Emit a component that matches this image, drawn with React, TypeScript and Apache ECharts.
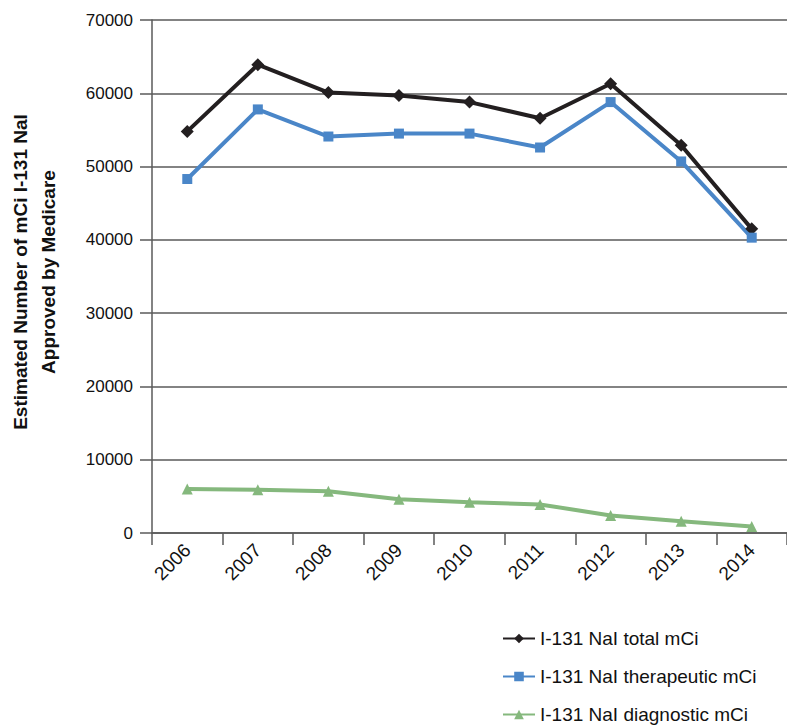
import React, { useEffect, useRef } from "react";
import * as echarts from "echarts";

const years = ["2006", "2007", "2008", "2009", "2010", "2011", "2012", "2013", "2014"];
const totalMCi = [54800, 63900, 60100, 59700, 58800, 56600, 61300, 52900, 41500];
const therapeuticMCi = [48300, 57800, 54100, 54500, 54500, 52600, 58800, 50700, 40300];
const diagnosticMCi = [6000, 5900, 5700, 4600, 4200, 3900, 2400, 1600, 900];
const seriesNames = ["I-131 NaI total mCi", "I-131 NaI therapeutic mCi", "I-131 NaI diagnostic mCi"];
const yTitle = "Estimated Number of mCi I-131 NaI\nApproved by Medicare";

const FONT = "'Liberation Sans', Arial, Helvetica, sans-serif";

export default function App() {
  const ref = useRef<HTMLDivElement>(null);
  useEffect(() => {
    document.body.style.margin = "0";
    const chart = echarts.init(ref.current!, null, { renderer: "svg" });
    chart.setOption({
      animation: false,
      backgroundColor: "#ffffff",
      textStyle: { fontFamily: FONT },
      grid: { left: 152, right: -6, top: 20, bottom: 193, containLabel: false },
      xAxis: {
        type: "category",
        data: years,
        boundaryGap: true,
        axisLine: { lineStyle: { color: "#5a5a5a", width: 1.5 } },
        axisTick: { show: true, length: 12, inside: false, lineStyle: { color: "#5a5a5a", width: 1.5 } },
        axisLabel: { rotate: 45, margin: 14, fontSize: 19, color: "#111", fontFamily: FONT, interval: 0 },
      },
      yAxis: {
        type: "value",
        min: 0,
        max: 70000,
        interval: 10000,
        axisLine: { show: true, lineStyle: { color: "#5a5a5a", width: 1.5 } },
        axisTick: { show: true, length: 12, lineStyle: { color: "#5a5a5a", width: 1.5 } },
        axisLabel: { fontSize: 17, color: "#111", margin: 19, fontFamily: FONT, formatter: (v: number) => String(v) },
        splitLine: { show: true, lineStyle: { color: "#5a5a5a", width: 1.5 } },
      },
      legend: {
        orient: "vertical",
        left: 497,
        top: 624,
        height: 200,
        itemGap: 19,
        itemWidth: 32,
        itemHeight: 12,
        textStyle: { fontSize: 19, color: "#111", fontFamily: FONT },
        data: seriesNames,
      },
      graphic: [
        {
          type: "text",
          x: 34,
          y: 272,
          rotation: Math.PI / 2,
          style: {
            text: yTitle,
            font: `bold 19px ${FONT}`,
            fill: "#111",
            align: "center",
            verticalAlign: "middle",
            lineHeight: 28,
          },
        },
      ],
      series: [
        {
          name: seriesNames[0],
          type: "line",
          data: totalMCi,
          symbol: "diamond",
          symbolSize: 13,
          lineStyle: { color: "#231f20", width: 4 },
          itemStyle: { color: "#231f20" },
        },
        {
          name: seriesNames[1],
          type: "line",
          data: therapeuticMCi,
          symbol: "rect",
          symbolSize: 10,
          lineStyle: { color: "#4a86c8", width: 4 },
          itemStyle: { color: "#4a86c8" },
        },
        {
          name: seriesNames[2],
          type: "line",
          data: diagnosticMCi,
          symbol: "triangle",
          symbolSize: 11,
          lineStyle: { color: "#85b87d", width: 4 },
          itemStyle: { color: "#85b87d" },
        },
      ],
    });
    return () => chart.dispose();
  }, []);
  return <div ref={ref} style={{ width: 787, height: 726 }} />;
}
